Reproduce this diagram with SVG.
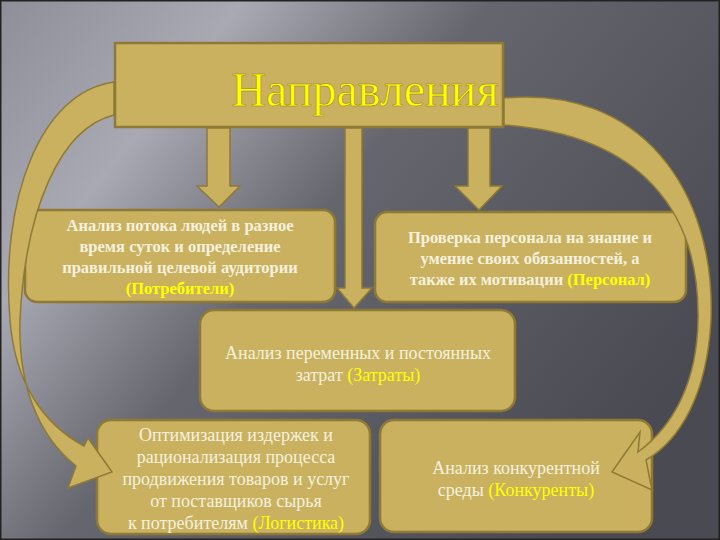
<svg xmlns="http://www.w3.org/2000/svg" width="720" height="540" viewBox="0 0 720 540">
<defs>
<linearGradient id="bg" x1="0" y1="0" x2="1" y2="0.6">
<stop offset="0" stop-color="#8e8e99"/><stop offset="0.25" stop-color="#a9a9b3"/><stop offset="0.5" stop-color="#66666f"/><stop offset="1" stop-color="#4a4a53"/>
</linearGradient>
<style>
.box{fill:#c9b160;stroke:#8f7a35;stroke-width:2.5}
.arr{fill:#c9b160;stroke:#8f7a35;stroke-width:1.5}
.t{font-family:"Liberation Serif",serif;font-size:16.5px;font-weight:bold;fill:#f6f1de;text-anchor:middle}
.t2{font-family:"Liberation Serif",serif;font-size:18px;fill:#f6f1de;text-anchor:middle}
.y{fill:#ffff00}
</style>
</defs>
<rect width="720" height="540" fill="url(#bg)"/>
<rect x="0.5" y="0.5" width="719" height="539" fill="none" stroke="#222" stroke-width="2"/>
<g id="title">
<rect x="115" y="43" width="388" height="84" class="box"/>
<text x="365" y="106" font-family="Liberation Serif,serif" font-size="48" fill="#ffff00" text-anchor="middle" stroke="#8f7a35" stroke-width="0.5">Направления</text>
</g>
<g id="n1">
<rect x="25" y="210" width="310" height="92" rx="12" class="box"/>
<text class="t" x="180" y="231">Анализ потока людей в разное</text>
<text class="t" x="180" y="252">время суток и определение</text>
<text class="t" x="180" y="273">правильной целевой аудитории</text>
<text class="t y" x="180" y="294">(Потребители)</text>
</g>
<g id="n2">
<rect x="375" y="212" width="311" height="90" rx="12" class="box"/>
<text class="t" x="530" y="243">Проверка персонала на знание и</text>
<text class="t" x="530" y="264">умение своих обязанностей, а</text>
<text class="t" x="530" y="285">также их мотивации <tspan class="y">(Персонал)</tspan></text>
</g>
<g id="n3">
<rect x="200" y="310" width="315" height="101" rx="14" class="box"/>
<text class="t2" x="358" y="359">Анализ переменных и постоянных</text>
<text class="t2" x="358" y="381">затрат <tspan class="y">(Затраты)</tspan></text>
</g>
<g id="n4">
<rect x="97" y="420" width="273" height="114" rx="14" class="box"/>
<text class="t2" x="236" y="441">Оптимизация издержек  и</text>
<text class="t2" x="236" y="463">рационализация процесса</text>
<text class="t2" x="236" y="485">продвижения товаров и услуг</text>
<text class="t2" x="236" y="507">от поставщиков сырья</text>
<text class="t2" x="236" y="529">к потребителям  <tspan class="y">(Логистика)</tspan></text>
</g>
<g id="n5">
<rect x="380" y="420" width="272" height="112" rx="14" class="box"/>
<text class="t2" x="516" y="474">Анализ конкурентной</text>
<text class="t2" x="516" y="496">среды <tspan class="y">(Конкуренты)</tspan></text>
</g>
<g id="connectors">
<path class="arr" d="M114,82 C40,92 0,200 10,320 C15,385 45,425 84,446 L88,438 L112,472 L68,488 L76,466 C38,436 18,385 20,320 C25,210 60,128 114,115 Z"/>
<path class="arr" d="M504,98 C640,85 716,190 711,320 C707,395 680,440 646,460 L652,490 L612,472 L640,432 L638,452 C675,425 697,380 698,320 C700,210 640,135 504,125 Z"/>
<path class="arr" d="M207,128 H230 V186 H240 L219,207 L197,186 H207 Z"/>
<path class="arr" d="M345,128 H362 V288 H372 L354,308 L337,288 H345 Z"/>
<path class="arr" d="M468,128 H490 V186 H502 L479,210 L455,186 H468 Z"/>
</g>
</svg>
